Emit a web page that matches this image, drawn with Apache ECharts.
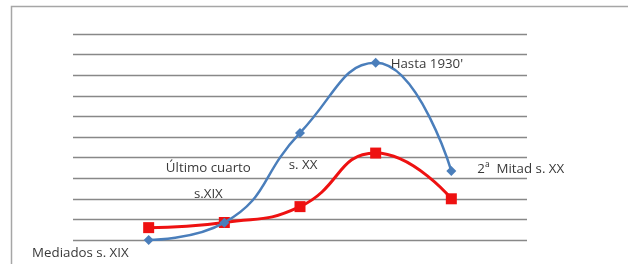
<!DOCTYPE html>
<html>
<head>
<meta charset="utf-8">
<script src="https://cdn.jsdelivr.net/npm/echarts@6/dist/echarts.min.js"></script>
<style>html,body{margin:0;padding:0;background:#fff;}#c{width:628px;height:264px;}</style>
</head>
<body>
<div id="c"></div>
<script>
var categories = ['', 'Mediados s. XIX', 'Último cuarto\ns.XIX', 's. XX', "Hasta 1930'", '2ª  Mitad s. XX', ''];
var blueValues = [null, 0, 0.84, 5.2, 8.6, 3.35, null];
var redValues = [null, 0.6, 0.85, 1.62, 4.22, 2.0, null];
var yTicks = [0, 1, 2, 3, 4, 5, 6, 7, 8, 9, 10];

var labelFont = {fontFamily: 'Open Sans', fontSize: 13.3, color: '#3a3a3a'};
var labelPlacement = [
  null,
  {position: 'left', offset: [-10, 13], align: 'right'},
  {position: 'top', offset: [-16, -5], lineHeight: 26},
  {position: 'bottom', offset: [3, 16]},
  {position: 'right', offset: [5, 1]},
  {position: 'right', offset: [16, -2]},
  null
];

var blueData = blueValues.map(function (v, i) {
  if (v === null) return null;
  var p = labelPlacement[i];
  var lab = Object.assign({show: true, formatter: categories[i]}, labelFont, p);
  return {value: v, label: lab};
});

var chart = echarts.init(document.getElementById('c'), null, {renderer: 'canvas'});
chart.setOption({
  animation: false,
  backgroundColor: '#fff',
  graphic: [{
    type: 'rect', silent: true,
    shape: {x: 11.5, y: 6.5, width: 700, height: 300},
    style: {fill: 'none', stroke: '#a6a6a6', lineWidth: 1.5}
  }],
  grid: {left: 73, right: 101, top: 34, bottom: 24},
  xAxis: {
    type: 'category', data: categories, boundaryGap: false,
    axisLine: {show: false}, axisTick: {show: false}, axisLabel: {show: false},
    splitLine: {show: false}
  },
  yAxis: {
    type: 'value', min: yTicks[0], max: yTicks[yTicks.length - 1], interval: 1,
    axisLine: {show: false}, axisTick: {show: false}, axisLabel: {show: false},
    splitLine: {show: true, lineStyle: {color: '#888888', width: 1.3}}
  },
  series: [
    {
      type: 'line', data: redValues, smooth: 0.5, connectNulls: false,
      symbol: 'rect', symbolSize: 11,
      lineStyle: {color: '#ee1111', width: 3},
      itemStyle: {color: '#ee1111'},
      z: 2
    },
    {
      type: 'line', data: blueData, smooth: 0.5, connectNulls: false,
      symbol: 'diamond', symbolSize: 10,
      lineStyle: {color: '#4a7ebb', width: 2.5},
      itemStyle: {color: '#4a7ebb'},
      z: 3
    }
  ]
});
</script>
</body>
</html>
